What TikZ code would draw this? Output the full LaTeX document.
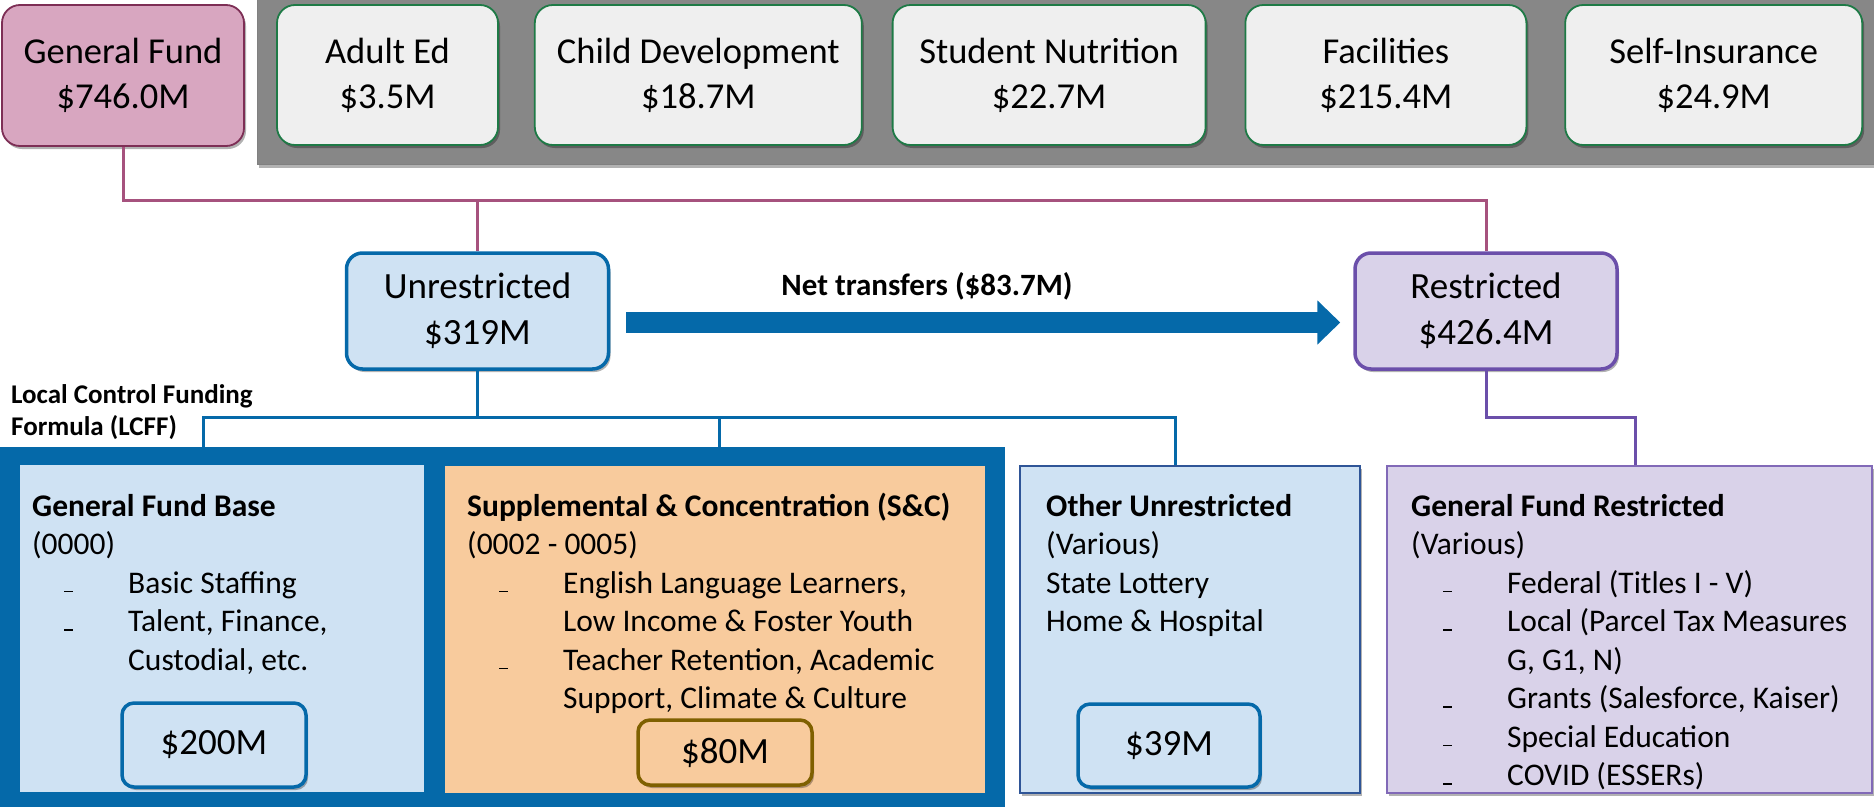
\documentclass[tikz,border=0pt]{standalone}
\usepackage{fontspec}
\setmainfont{Carlito}
\usetikzlibrary{arrows.meta, positioning, fit, backgrounds, calc, shadows}

\definecolor{fundpink}{RGB}{216,166,192}
\definecolor{fundmaroon}{RGB}{125,46,85}
\definecolor{linkpink}{RGB}{166,82,126}
\definecolor{panelgray}{RGB}{135,135,135}
\definecolor{boxgray}{RGB}{239,239,239}
\definecolor{boxgreen}{RGB}{30,122,70}
\definecolor{lcffblue}{RGB}{5,105,169}
\definecolor{paleblue}{RGB}{207,226,243}
\definecolor{navyline}{RGB}{47,85,151}
\definecolor{lavender}{RGB}{217,210,233}
\definecolor{resviolet}{RGB}{107,79,170}
\definecolor{peach}{RGB}{248,203,157}
\definecolor{amtolive}{RGB}{127,96,0}

% little dash bullets
\newcommand{\lowdash}{\rule[1pt]{9pt}{1.6pt}}
\newcommand{\bulitem}[1]{\hspace*{32pt}\makebox[64pt][l]{\lowdash}#1}
\newcommand{\bulcont}[1]{\hspace*{96pt}#1}

\begin{document}
\begin{tikzpicture}[x=1pt, y=-1pt,
    % Styles
    soft shadow/.style={drop shadow={shadow xshift=2pt, shadow yshift=-3pt, opacity=0.3, fill=black}},
    gf node/.style={rectangle, draw=fundmaroon, fill=fundpink, line width=1.8pt, rounded corners=18pt, align=center, font=\fontsize{36.5}{45}\selectfont, minimum width=242pt, minimum height=141pt, inner sep=0pt, soft shadow},
    fund node/.style={rectangle, draw=boxgreen, fill=boxgray, line width=1.8pt, rounded corners=18pt, align=center, font=\fontsize{36.5}{45}\selectfont, minimum height=140pt, inner sep=0pt, soft shadow},
    fund panel/.style={rectangle, draw=black!50, fill=panelgray, line width=1pt, inner sep=19pt, soft shadow},
    split node/.style={rectangle, line width=3.5pt, rounded corners=16pt, align=center, font=\fontsize{37}{46}\selectfont, minimum width=262pt, minimum height=116pt, inner sep=0pt, soft shadow},
    unres node/.style={split node, draw=lcffblue, fill=paleblue},
    res node/.style={split node, draw=resviolet, fill=lavender},
    lcff frame/.style={rectangle, fill=lcffblue, inner xsep=20pt, inner ysep=17pt},
    src node/.style={rectangle, minimum height=327pt, inner sep=0pt},
    amt node/.style={rectangle, line width=3.5pt, rounded corners=12pt, font=\fontsize{37}{37}\selectfont, inner sep=0pt, soft shadow},
    box text/.style={anchor=north west, align=left, inner sep=0pt, font=\fontsize{31.5}{38.5}\selectfont},
    lcff label/.style={anchor=north west, align=left, inner sep=0pt, font=\fontsize{27}{32}\selectfont\bfseries},
    flow label/.style={anchor=base, inner sep=0pt, font=\fontsize{31}{36}\selectfont\bfseries},
    gf link/.style={draw=linkpink, line width=3pt},
    unres link/.style={draw=lcffblue, line width=3pt},
    res link/.style={draw=resviolet, line width=3pt},
    transfer arrow/.style={draw=lcffblue, line width=21pt, -{Triangle[length=23pt, width=43pt]}}
]
\useasboundingbox (0,0) rectangle (1874,806);

% Top row: General Fund and the other funds
\node[gf node] (gf) at (123,75.5) {General Fund\\\$746.0M};
\node[fund node, minimum width=221pt] (adult) at (387.5,75) {Adult Ed\\\$3.5M};
\node[fund node, minimum width=327pt, right=35pt of adult] (child) {Child Development\\\$18.7M};
\node[fund node, minimum width=313pt, right=29pt of child] (nutr) {Student Nutrition\\\$22.7M};
\node[fund node, minimum width=281pt, right=38pt of nutr] (facil) {Facilities\\\$215.4M};
\node[fund node, minimum width=297pt, right=37pt of facil] (selfins) {Self-Insurance\\\$24.9M};

% Second row: split of the General Fund
\node[unres node] (unres) at (477.5,311) {Unrestricted\\\$319M};
\node[res node] (res) at (1486,311) {Restricted\\\$426.4M};
\node[flow label] (netlbl) at (927,295) {Net transfers (\$83.7M)};

\node[lcff label] (lcfftxt) at (11,381) {\strut Local Control Funding\\Formula (LCFF)};

% Third row: sources
\node[src node, fill=paleblue, minimum width=404pt] (base) at (222,628) {};
\node[src node, fill=peach, minimum width=540pt] (sc) at (715,629.5) {};
\node[src node, fill=paleblue, draw=navyline, line width=1.5pt, minimum width=340pt, soft shadow] (other) at (1190,629.5) {};
\node[src node, fill=lavender, draw=resviolet!85, line width=1.5pt, minimum width=485pt, soft shadow] (gfr) at (1629.5,629.5) {};

\node[box text] (basetxt) at (32,489) {\strut\textbf{General Fund Base}\\(0000)\\\bulitem{Basic Staffing}\\\bulitem{Talent, Finance,}\\\bulcont{Custodial, etc.}};
\node[box text] (sctxt) at (467,489) {\strut\textbf{Supplemental \& Concentration (S\&C)}\\(0002 - 0005)\\\bulitem{English Language Learners,}\\\bulcont{Low Income \& Foster Youth}\\\bulitem{Teacher Retention, Academic}\\\bulcont{Support, Climate \& Culture}};
\node[box text] (othertxt) at (1046,489) {\strut\textbf{Other Unrestricted}\\(Various)\\State Lottery\\Home \& Hospital};
\node[box text] (gfrtxt) at (1411,489) {\strut\textbf{General Fund Restricted}\\(Various)\\\bulitem{Federal (Titles I - V)}\\\bulitem{Local (Parcel Tax Measures}\\\bulcont{G, G1, N)}\\\bulitem{Grants (Salesforce, Kaiser)}\\\bulitem{Special Education}\\\bulitem{COVID (ESSERs)}};

% Amounts
\node[amt node, draw=lcffblue, fill=paleblue, minimum width=184pt, minimum height=84pt] (amt200) at (214,745) {\$200M};
\node[amt node, draw=amtolive, fill=peach, minimum width=174pt, minimum height=65pt] (amt80) at (725,752.5) {\$80M};
\node[amt node, draw=lcffblue, fill=paleblue, minimum width=182pt, minimum height=83pt] (amt39) at (1169,745.5) {\$39M};

% Connections
\coordinate (gfbus) at (0,200);
\coordinate (srcbus) at (0,417);

\draw[gf link] (gf.south) |- (gfbus -| res.north) -- (res.north);
\draw[gf link] (unres.north) -- (unres.north |- gfbus);

\draw[unres link] (unres.south) -- (unres.south |- srcbus) -| ([xshift=-19pt]base.north);
\draw[unres link] (unres.south |- srcbus) -| ([xshift=4pt]sc.north);
\draw[unres link] (unres.south |- srcbus) -| ([xshift=-15pt]other.north);
\draw[res link] (res.south) -- (res.south |- srcbus) -| ([xshift=5.5pt]gfr.north);

\draw[transfer arrow] ([shift={(16,11.5)}]unres.east) -- ([shift={(-13,11.5)}]res.west);

% Background boxes
\begin{scope}[on background layer]
    \node[fund panel, fit=(adult)(child)(nutr)(facil)(selfins)] (otherfunds) {};
    \node[lcff frame, fit=(base)(sc)] (lcff) {};
\end{scope}

\end{tikzpicture}
\end{document}
